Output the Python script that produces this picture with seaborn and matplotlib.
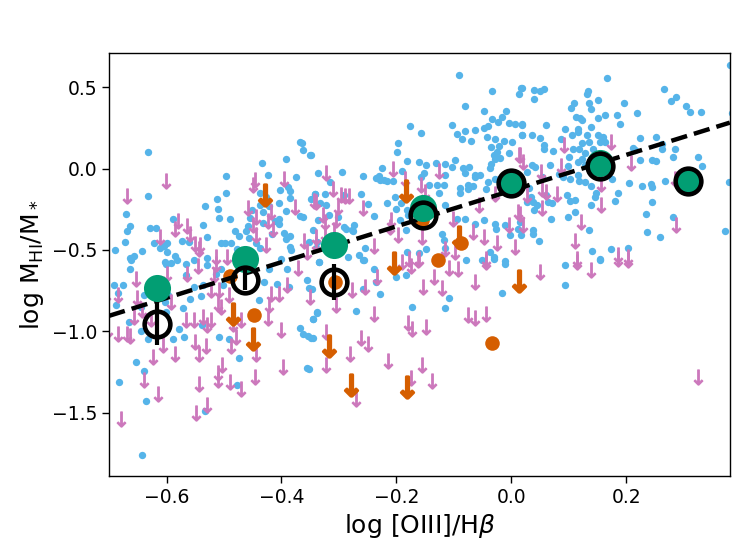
import matplotlib
matplotlib.use("Agg")
import matplotlib.pyplot as plt
import numpy as np
import pandas as pd
import seaborn as sns

# detections (blue)
det_x = [-0.632, -0.689, -0.632, -0.670, -0.669, -0.663, -0.672, -0.663, -0.657, -0.642, -0.629, -0.619, -0.621, -0.611, -0.605, -0.600, -0.599, -0.586, -0.602, -0.589,
         -0.573, -0.561, -0.536, -0.533, -0.529, -0.530, -0.513, -0.510, -0.509, -0.497, -0.496, -0.489, -0.505, -0.498, -0.488, -0.481, -0.474, -0.477, -0.462, -0.457,
         -0.458, -0.455, -0.452, -0.445, -0.438, -0.438, -0.434, -0.433, -0.432, -0.424, -0.437, -0.427, -0.422, -0.416, -0.411, -0.404, -0.402, -0.404, -0.405, -0.401,
         -0.395, -0.392, -0.392, -0.389, -0.386, -0.386, -0.393, -0.385, -0.386, -0.384, -0.374, -0.368, -0.364, -0.363, -0.350, -0.348, -0.341, -0.368, -0.362, -0.352,
         -0.340, -0.337, -0.336, -0.335,
         -0.092, -0.034, -0.080, 0.013, 0.017, -0.047, -0.034, -0.016, -0.009, -0.023, -0.005, 0.007, 0.018, -0.104, -0.094, -0.080, -0.063, -0.048, -0.040, -0.086,
         -0.071, -0.042, -0.028, -0.013, 0.001, 0.018, -0.035, -0.022, -0.031, -0.025, -0.019, -0.028, -0.005, -0.177, -0.158, -0.197, -0.199, -0.349, -0.182, -0.161,
         -0.148, -0.132, -0.115, -0.099, -0.103, -0.085, -0.074, -0.035, -0.037, -0.080, -0.063, -0.054, -0.115, -0.152, -0.157, -0.191, -0.206, -0.226, -0.230, -0.235,
         -0.228, -0.222, -0.216, -0.258, -0.295, -0.315, -0.325, -0.342, -0.333, -0.322, -0.291, -0.262, -0.250, -0.274, -0.276, -0.292, -0.239, -0.216, -0.203, -0.192,
         -0.200, -0.181, -0.193, -0.180, -0.184, -0.144, -0.129, -0.118, -0.126, -0.115, -0.090, -0.075, -0.067, -0.075, -0.063, -0.089, -0.045, -0.041, -0.029, -0.094,
         -0.080, -0.063, -0.048, -0.028, -0.026, -0.011, 0.011, 0.015, 0.017, -0.002, -0.037, -0.031, -0.051, -0.011, -0.149, -0.161, -0.181, -0.254, -0.265, -0.258,
         -0.285, -0.288, -0.278, -0.338, -0.346, -0.317, -0.301, -0.120, -0.118, -0.116,
         0.166, 0.381, 0.019, 0.040, 0.049, 0.057, 0.040, 0.133, 0.131, 0.109, 0.103, 0.135, 0.150, 0.138, 0.196, 0.218, 0.266, 0.287, 0.278, 0.304,
         0.310, 0.329, 0.383, 0.112, 0.119, 0.122, 0.150, 0.163, 0.183, 0.189, 0.093, 0.116, 0.138, 0.018, 0.019, 0.035, 0.050, 0.061, 0.056, 0.057,
         0.073, 0.087, 0.105, 0.115, 0.122, 0.131, 0.135, 0.151, 0.160, 0.154, 0.108, 0.118, 0.128, 0.122, 0.100, 0.142, 0.163, 0.223, 0.251, 0.262,
         0.262, 0.285, 0.281, 0.325, 0.332, 0.212, 0.215, 0.223, 0.244, 0.251, 0.204, 0.227, 0.243, 0.244, 0.267, 0.378, 0.245, 0.235, 0.236, 0.258,
         0.281, 0.372, 0.067, 0.035, 0.027, 0.041, 0.053, 0.082, 0.089, 0.099, 0.115, 0.128, 0.116, 0.102, 0.118, 0.128, 0.138, 0.147, 0.145, 0.180,
         0.186, 0.175, 0.096, 0.102, 0.110, 0.138, 0.110, 0.098, 0.030, 0.034, 0.038, 0.044, 0.040, 0.027, 0.061, 0.064, 0.070, 0.069, 0.038, 0.038,
         0.048, 0.135, 0.141, 0.154, 0.173, 0.202,
         -0.662, -0.663, -0.691, -0.676, -0.685, -0.688, -0.665, -0.640, -0.644, -0.644, -0.633, -0.653, -0.639, -0.682, -0.636, -0.643, -0.533, -0.477, -0.474, -0.491,
         -0.508, -0.539, -0.579, -0.569, -0.589, -0.601, -0.593, -0.566, -0.552, -0.566, -0.553, -0.537, -0.540, -0.598, -0.601, -0.603, -0.572, -0.559, -0.529, -0.505,
         -0.514, -0.501, -0.439, -0.430, -0.422, -0.407, -0.391, -0.387, -0.356, -0.352, -0.368, -0.362, -0.354, -0.346, -0.346, -0.339, -0.356, -0.581,
         -0.335, -0.347, -0.339, -0.345, -0.349, -0.352, -0.271, -0.259, -0.239, -0.236, -0.228, -0.200, -0.183, -0.173, -0.109, -0.116, -0.016, -0.011, -0.257, -0.079,
         -0.031, 0.093, 0.093, 0.155]
det_y = [0.100, -0.502, -0.166, -0.279, -0.385, -0.355, -0.453, -0.549, -0.537, -0.508, -0.365, -0.365, -0.457, -0.486, -0.476, -0.457, -0.513, -0.537, -0.574, -0.312,
         -0.447, -0.451, -0.349, -0.232, -0.422, -0.549, -0.185, -0.250, -0.303, -0.148, -0.045, -0.307, -0.455, -0.455, -0.455, -0.385, -0.414, -0.492, -0.385, -0.424,
         -0.355, -0.303, -0.256, -0.457, -0.488, -0.221, 0.033, -0.266, -0.336, -0.037, -0.148, -0.172, -0.230, -0.404, -0.324, -0.213, -0.131, -0.307, -0.340, -0.558,
         -0.394, -0.258, 0.061, -0.111, -0.139, -0.180, -0.435, -0.414, -0.482, -0.500, -0.051, 0.164, 0.160, 0.117, 0.086, -0.185, -0.156, -0.293, -0.295, -0.451,
         -0.488, -0.314, -0.025, -0.574,
         0.578, 0.478, 0.383, 0.461, 0.498, 0.353, 0.308, 0.318, 0.353, 0.287, 0.283, 0.277, 0.267, 0.267, 0.215, 0.232, 0.240, 0.250, 0.260, 0.185,
         0.168, 0.195, 0.185, 0.168, 0.164, 0.205, 0.133, 0.139, 0.086, 0.102, 0.066, 0.062, 0.098, 0.260, 0.221, 0.158, 0.102, 0.086, 0.049, 0.041,
         0.025, 0.035, 0.031, 0.051, 0.010, 0.004, 0.010, 0.031, 0.004, -0.025, -0.037, -0.041, -0.041, -0.025, -0.051, -0.016, -0.078, 0.004, -0.047, -0.057,
         -0.072, -0.072, -0.078, -0.047, -0.021, -0.082, -0.158, -0.154, -0.209, -0.225, -0.164, -0.156, -0.215, -0.349, -0.385, -0.359, -0.291, -0.209, -0.174, -0.209,
         -0.246, -0.256, -0.318, -0.287, -0.379, -0.103, -0.103, -0.099, -0.148, -0.221, -0.148, -0.123, -0.107, -0.098, -0.051, -0.119, -0.123, -0.082, -0.062, -0.307,
         -0.311, -0.338, -0.318, -0.338, -0.369, -0.349, -0.369, -0.328, -0.406, -0.410, -0.513, -0.543, -0.564, -0.570, -0.492, -0.517, -0.513, -0.488, -0.533, -0.564,
         -0.543, -0.369, -0.379, -0.451, -0.379, -0.287, -0.297, -0.400, -0.441, -0.488,
         0.560, 0.640, 0.496, 0.482, 0.476, 0.488, 0.430, 0.476, 0.461, 0.404, 0.373, 0.406, 0.420, 0.365, 0.406, 0.342, 0.492, 0.441, 0.414, 0.385,
         0.348, 0.348, 0.344, 0.318, 0.312, 0.297, 0.312, 0.332, 0.328, 0.277, 0.246, 0.242, 0.256, 0.277, 0.209, 0.205, 0.189, 0.266, 0.143, 0.123,
         0.107, 0.180, 0.209, 0.225, 0.160, 0.209, 0.164, 0.209, 0.195, 0.164, 0.123, 0.119, 0.098, 0.062, 0.072, 0.123, 0.164, 0.189, 0.195, 0.154,
         0.119, 0.119, 0.072, 0.072, 0.016, 0.127, 0.113, 0.051, 0.051, 0.045, -0.086, -0.107, -0.092, -0.113, -0.078, -0.082, -0.205, -0.277, -0.389, -0.420,
         -0.297, -0.381, 0.025, 0.025, -0.021, 0.010, -0.051, -0.031, -0.051, 0.016, 0.041, 0.021, -0.041, -0.066, -0.078, -0.082, -0.107, -0.148, -0.174, -0.201,
         -0.148, -0.062, -0.160, -0.201, -0.195, -0.226, -0.266, -0.297, -0.119, -0.174, -0.205, -0.221, -0.256, -0.205, -0.164, -0.205, -0.209, -0.312, -0.379, -0.400,
         -0.447, -0.379, -0.506, -0.554, -0.492, -0.486,
         -0.563, -0.619, -0.717, -0.713, -0.762, -0.840, -0.942, -0.778, -0.850, -1.000, -1.045, -1.189, -1.246, -1.312, -1.430, -1.758, -1.492, -1.332, -1.164, -1.045,
         -1.035, -0.959, -0.988, -1.035, -1.049, -0.584, -0.578, -0.584, -0.563, -0.651, -0.727, -0.717, -0.783, -0.778, -0.881, -0.820, -0.856, -0.803, -0.594, -0.614,
         -0.645, -0.717, -0.809, -0.697, -0.614, -0.707, -0.614, -0.727, -0.686, -0.733, -0.979, -1.014, -1.031, -1.039, -0.922, -0.881, -1.225, -0.563,
         -0.574, -0.738, -0.885, -0.922, -1.041, -1.229, -0.873, -0.738, -0.619, -0.697, -0.768, -0.666, -0.655, -0.852, -0.795, -0.856, -0.764, -0.584, -0.563, -0.563,
         -0.553, -0.590, -0.717, -0.559]

# non-detections, upper limits (pink arrows)
lim_x = [-0.601, -0.669, -0.446, -0.449, -0.395, -0.458, -0.445, -0.419, -0.414, -0.423, -0.377, -0.343, -0.580, -0.586, -0.564, -0.559, -0.611, -0.551, -0.543, -0.541,
         -0.514, -0.494, -0.445, -0.427, -0.449, -0.361, -0.356, -0.340,
         -0.323, -0.340, -0.311, -0.297, -0.290, -0.283, -0.301, -0.328, -0.324, -0.306, -0.309, -0.340, -0.324, -0.259, -0.206, -0.185, -0.158, -0.126, -0.151, -0.210,
         -0.212, -0.197, -0.239, -0.155, -0.102, -0.066, -0.047, -0.025, -0.004, 0.006, 0.011, 0.014, -0.057, -0.028, -0.115, -0.099, -0.178, -0.161, -0.045,
         0.015, 0.021, 0.092, 0.087, 0.052, 0.061, 0.054, 0.079, 0.027, 0.054, 0.021, 0.015, 0.174, 0.208, 0.156, 0.156, 0.121, 0.111, 0.114, 0.284,
         0.287, 0.186, 0.203,
         -0.653, -0.651, -0.685, -0.656, -0.684, -0.669, -0.663, -0.627, -0.643, -0.639, -0.624, -0.614, -0.679, -0.607, -0.586, -0.593, -0.599, -0.566, -0.552, -0.537,
         -0.523, -0.551, -0.531, -0.543, -0.529, -0.564, -0.545, -0.517, -0.514, -0.523, -0.511, -0.505, -0.508, -0.491, -0.485, -0.471, -0.479, -0.488, -0.503, -0.511,
         -0.510, -0.489, -0.471, -0.543, -0.529, -0.549, -0.445, -0.446, -0.424, -0.401, -0.397, -0.422, -0.419, -0.404, -0.390, -0.371, -0.350, -0.702, -0.705,
         -0.306, -0.277, -0.254, -0.233, -0.239, -0.323, -0.322, -0.280, -0.261, -0.249, -0.271, -0.214, -0.180, -0.173, -0.149, -0.156, -0.174, -0.138, -0.154, -0.135,
         -0.121, -0.108, -0.093, -0.063, -0.076, -0.064, -0.045, -0.045, -0.174, -0.190, -0.162,
         0.050, 0.114, 0.138, 0.186, 0.203, 0.325]
lim_y = [-0.076, -0.170, -0.068, -0.103, -0.062, -0.242, -0.297, -0.266, -0.369, -0.322, -0.236, -0.201, -0.322, -0.369, -0.353, -0.402, -0.422, -0.461, -0.492, -0.472,
         -0.543, -0.543, -0.410, -0.467, -0.344, -0.447, -0.513, -0.461,
         -0.025, -0.205, -0.123, -0.164, -0.170, -0.170, -0.236, -0.287, -0.328, -0.318, -0.379, -0.420, -0.400, -0.242, 0.000, -0.062, -0.103, -0.016, -0.144, -0.314,
         -0.359, -0.410, -0.476, -0.420, -0.312, -0.390, -0.420, -0.455, -0.349, -0.482, -0.267, 0.082, -0.221, -0.154, -0.492, -0.513, -0.553, -0.558, -0.554,
         0.082, 0.041, 0.143, 0.016, -0.021, -0.144, -0.123, -0.154, -0.164, -0.242, -0.349, -0.277, 0.164, 0.037, -0.092, -0.226, -0.328, -0.447, -0.554, -0.062,
         -0.349, -0.533, -0.543,
         -0.676, -0.795, -0.778, -0.912, -1.014, -1.014, -1.029, -0.922, -0.871, -1.301, -1.158, -1.383, -1.541, -1.086, -1.137, -0.820, -0.645, -0.932, -0.932, -0.912,
         -0.932, -1.066, -1.090, -1.137, -0.963, -0.645, -0.598, -0.655, -0.584, -0.748, -0.830, -0.850, -0.748, -0.778, -0.953, -0.932, -1.035, -1.090, -1.209, -1.301,
         -1.254, -1.312, -1.352, -1.322, -1.455, -1.500, -1.137, -1.281, -0.918, -0.994, -1.219, -0.840, -0.768, -0.768, -0.717, -0.610, -0.789, -0.994, -0.778,
         -0.840, -0.748, -0.727, -0.666, -0.891, -1.004, -1.209, -1.137, -1.041, -1.076, -1.414, -1.184, -0.947, -0.984, -0.973, -1.205, -1.287, -1.307, -0.727, -0.666,
         -0.733, -0.610, -0.618, -0.697, -0.897, -0.918, -0.891, -0.574, -0.598, -0.574, -0.563,
         -0.635, -0.574, -0.625, -0.553, -0.563, -1.281]

# second sample: detections (orange dots) and limits (orange arrows)
odet_x = [-0.489, -0.448, -0.155, -0.307, -0.088, -0.034, -0.128]
odet_y = [-0.660, -0.897, -0.318, -0.700, -0.460, -1.072, -0.560]
olim_x = [-0.429, -0.485, -0.449, -0.184, -0.092, -0.205, -0.318, -0.279, -0.181, 0.013]
olim_y = [-0.164, -0.891, -1.045, -0.139, -0.420, -0.580, -1.090, -1.332, -1.342, -0.690]

# binned values
bin_x = [-0.616, -0.464, -0.308, -0.154, 0.0, 0.155, 0.307]
green_y = [-0.735, -0.555, -0.467, -0.240, -0.085, 0.035, -0.078]
stack_y = [-0.953, -0.686, -0.697, -0.285, -0.086, 0.017, -0.078]
stack_err = [0.13, 0.06, 0.11, 0.0, 0.0, 0.0, 0.0]

# linear fit
fit_slope = 1.10
fit_icpt = -0.135
xlim = (-0.7, 0.38)
ylim = (-1.89, 0.71)

sns.set_theme(style="ticks", rc={"text.color": "black", "axes.labelcolor": "black",
                                 "xtick.color": "black", "ytick.color": "black",
                                 "axes.edgecolor": "black"})
plt.rcParams["font.family"] = ["DejaVu Sans"]
pal = sns.color_palette("colorblind")
c_blue, c_pink, c_orange, c_green = pal[9], pal[4], pal[3], pal[2]

fig = plt.figure(figsize=(7.47, 5.6), dpi=100)
ax = fig.add_axes([0.146, 0.15, 0.831, 0.755])

det = pd.DataFrame({"x": det_x, "y": det_y})
lim = pd.DataFrame({"x": lim_x, "y": lim_y})
sns.scatterplot(data=det, x="x", y="y", color=c_blue, s=28, linewidth=0, ax=ax, zorder=2)
sns.scatterplot(data=lim, x="x", y="y", color=c_pink, marker=r"$\downarrow$", s=120, linewidth=0.7,
                edgecolor=c_pink, ax=ax, zorder=2)
sns.scatterplot(x=odet_x, y=odet_y, color=c_orange, s=110, linewidth=0, ax=ax, zorder=3)
sns.scatterplot(x=olim_x, y=olim_y, color=c_orange, marker=r"$\downarrow$", s=240, linewidth=2.0,
                edgecolor=c_orange, ax=ax, zorder=3)

xx = np.array(xlim)
ax.plot(xx, fit_slope * xx + fit_icpt, ls="--", color="black", lw=3.2, zorder=4)

ax.plot(bin_x, green_y, "o", color=c_green, ms=19.5, mew=0, zorder=5)
ax.errorbar(bin_x, stack_y, yerr=stack_err, fmt="o", ms=18.5, mfc="none", mec="black", mew=3.3,
            ecolor="black", elinewidth=3, capsize=0, zorder=6)

ax.set_xlim(*xlim)
ax.set_ylim(*ylim)
for sp in ax.spines.values():
    sp.set_visible(True)
    sp.set_linewidth(1.0)
ax.tick_params(labelsize=13.5, length=5, width=1, direction="out")
ax.set_xlabel(r"log [OIII]/H$\beta$", fontsize=18)
ax.set_ylabel(r"log M$_{\rm HI}$/M$_*$", fontsize=18)

fig.savefig("out.png", dpi=100)
